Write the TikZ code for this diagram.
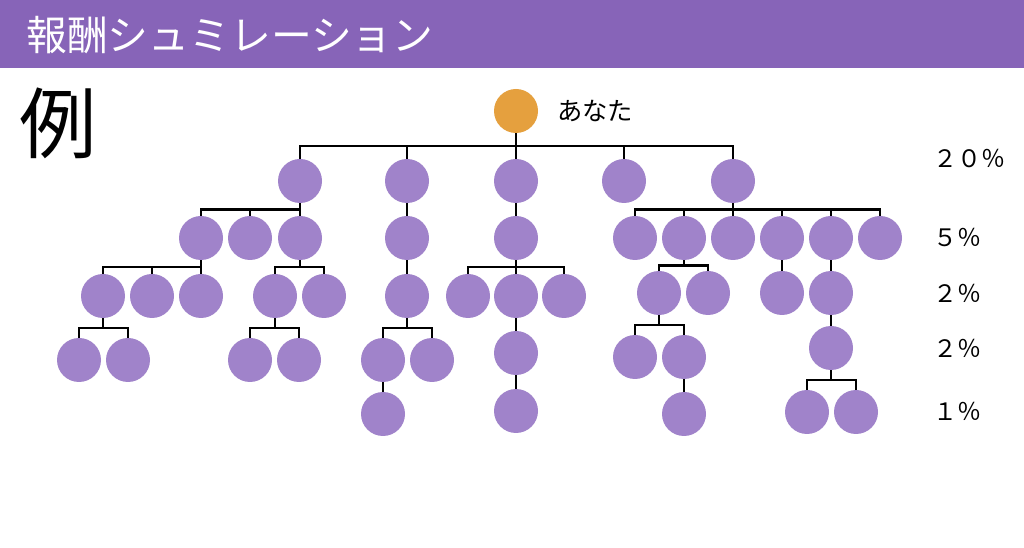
\documentclass[tikz,border=0pt]{standalone}
\usepackage{fontspec}
\setmainfont{Noto Sans CJK JP}
\usetikzlibrary{calc}
\definecolor{hdr}{HTML}{8764B8}
\definecolor{mem}{HTML}{A083CA}
\definecolor{you}{HTML}{E5A03E}
\tikzset{
  mnode/.style={circle,fill=mem,minimum size=33pt,inner sep=0pt},
  ynode/.style={circle,fill=you,minimum size=33pt,inner sep=0pt},
  bus/.style={to path={(\tikztostart) |- ($(\tikztostart)!.5!(\tikztotarget)$) -| (\tikztotarget)}},
  link/.style={draw=black,line width=2.2pt},
  pct/.style={anchor=west,font=\fontsize{18pt}{20pt}\selectfont,inner sep=0pt}
}
\begin{document}
\begin{tikzpicture}[x=0.75pt,y=-0.75pt]
\useasboundingbox (0,0) rectangle (1024,548);
\fill[white] (0,0) rectangle (1024,548);
\fill[hdr] (0,0) rectangle (1024,68);
\node[anchor=west,text=white,inner sep=0pt,font=\fontsize{30.6pt}{33pt}\selectfont] (title) at (26,35) {報酬シュミレーション};
\node[inner sep=0pt,font=\fontsize{58pt}{60pt}\selectfont] (rei) at (58,123) {例};

% nodes
\node[ynode] (r) at (516,111) {};
\node[anchor=west,inner sep=0pt,font=\fontsize{19pt}{21pt}\selectfont] (you) at (557,111) {あなた};

\node[mnode] (a) at (300,181) {};
\node[mnode] (b) at (407,181) {};
\node[mnode] (c) at (516,181) {};
\node[mnode] (d) at (624,181) {};
\node[mnode] (e) at (733,181) {};

\node[mnode] (a1) at (201,238) {};
\node[mnode] (a2) at (250,238) {};
\node[mnode] (a3) at (300,238) {};
\node[mnode] (b1) at (407,238) {};
\node[mnode] (c1) at (516,238) {};
\node[mnode] (e1) at (635,238) {};
\node[mnode] (e2) at (684,238) {};
\node[mnode] (e3) at (733,238) {};
\node[mnode] (e4) at (782,238) {};
\node[mnode] (e5) at (831,238) {};
\node[mnode] (e6) at (880,238) {};

\node[mnode] (a11) at (103,296) {};
\node[mnode] (a12) at (152,296) {};
\node[mnode] (a13) at (201,296) {};
\node[mnode] (a31) at (275,296) {};
\node[mnode] (a32) at (324,296) {};
\node[mnode] (b11) at (407,296) {};
\node[mnode] (c11) at (468,296) {};
\node[mnode] (c12) at (516,296) {};
\node[mnode] (c13) at (564,296) {};
\node[mnode] (e21) at (659,293) {};
\node[mnode] (e22) at (708,293) {};
\node[mnode] (e41) at (782,293) {};
\node[mnode] (e51) at (831,293) {};

\node[mnode] (a111) at (79,360) {};
\node[mnode] (a112) at (128,360) {};
\node[mnode] (a311) at (250,360) {};
\node[mnode] (a312) at (299,360) {};
\node[mnode] (b111) at (383,360) {};
\node[mnode] (b112) at (432,360) {};
\node[mnode] (c121) at (516,353) {};
\node[mnode] (e211) at (635,357) {};
\node[mnode] (e212) at (684,357) {};
\node[mnode] (e511) at (831,348) {};

\node[mnode] (b1111) at (383,414) {};
\node[mnode] (c1211) at (516,411) {};
\node[mnode] (e2121) at (684,414) {};
\node[mnode] (e5111) at (807,412) {};
\node[mnode] (e5112) at (856,412) {};

% connectors
\foreach \p/\cl in {r/{a,b,c,d,e}, a/{a1,a2,a3}, b/{b1}, c/{c1}, e/{e1,e2,e3,e4,e5,e6},
  a1/{a11,a12,a13}, a3/{a31,a32}, b1/{b11}, c1/{c11,c12,c13}, e2/{e21,e22}, e4/{e41}, e5/{e51},
  a11/{a111,a112}, a31/{a311,a312}, b11/{b111,b112}, c12/{c121}, e21/{e211,e212}, e51/{e511},
  b111/{b1111}, c121/{c1211}, e212/{e2121}, e511/{e5111,e5112}}{
  \foreach \ch in \cl {
    \draw[link] (\p.south) to[bus] (\ch.north);
  }
}

% percentages
\node[pct] (p1) at (933,159) {２０％};
\node[pct] (p2) at (933,238) {５％};
\node[pct] (p3) at (933,293) {２％};
\node[pct] (p4) at (933,348) {２％};
\node[pct] (p5) at (933,411) {１％};
\end{tikzpicture}
\end{document}
